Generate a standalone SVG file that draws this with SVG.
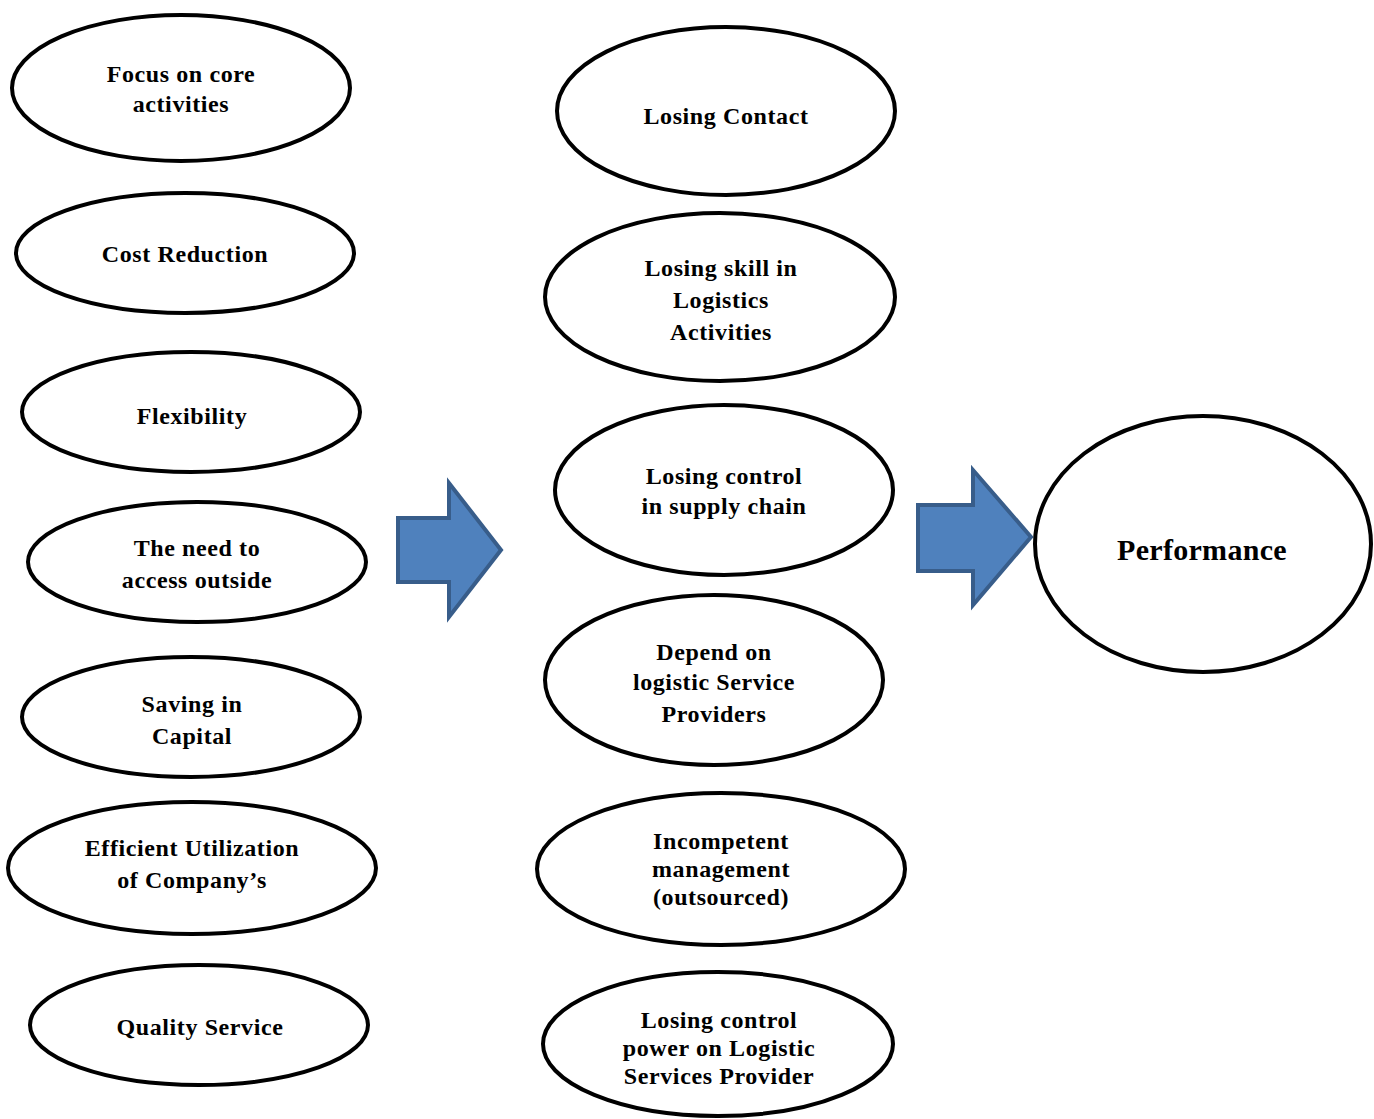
<svg xmlns="http://www.w3.org/2000/svg" width="1374" height="1119" viewBox="0 0 1374 1119">
<style>
.n{fill:#fff;stroke:#000;stroke-width:4}
.t{font-family:"Liberation Serif","Times New Roman",serif;font-weight:bold;font-size:24px;letter-spacing:0.6px;fill:#000;text-anchor:middle}
.p{font-size:30px;letter-spacing:0.3px}
.a{fill:#4f81bd;stroke:#385d8a;stroke-width:4;stroke-linejoin:miter}
</style>
<rect width="1374" height="1119" fill="#fff"/>
<g id="connectors">
<polygon class="a" points="398,518 449,518 449,483 501,550 449,617 449,582 398,582"/>
<polygon class="a" points="918,505 973,505 973,470 1031,537 973,605 973,571 918,571"/>
</g>
<g id="n-focus"><ellipse class="n" cx="181" cy="88" rx="169" ry="73"/><text class="t" x="181" y="82">Focus on core</text><text class="t" x="181" y="112">activities</text></g>
<g id="n-cost"><ellipse class="n" cx="185" cy="253" rx="169" ry="60"/><text class="t" x="185" y="262">Cost Reduction</text></g>
<g id="n-flex"><ellipse class="n" cx="191" cy="412" rx="169" ry="60"/><text class="t" x="192" y="424">Flexibility</text></g>
<g id="n-need"><ellipse class="n" cx="197" cy="562" rx="169" ry="60"/><text class="t" x="197" y="556">The need to</text><text class="t" x="197" y="588">access outside</text></g>
<g id="n-saving"><ellipse class="n" cx="191" cy="717" rx="169" ry="60"/><text class="t" x="192" y="712">Saving in</text><text class="t" x="192" y="744">Capital</text></g>
<g id="n-efficient"><ellipse class="n" cx="192" cy="868" rx="184" ry="66"/><text class="t" x="192" y="856">Efficient Utilization</text><text class="t" x="192" y="888">of Company’s</text></g>
<g id="n-quality"><ellipse class="n" cx="199" cy="1025" rx="169" ry="60"/><text class="t" x="200" y="1035">Quality Service</text></g>
<g id="n-contact"><ellipse class="n" cx="726" cy="111" rx="169" ry="84"/><text class="t" x="726" y="124">Losing Contact</text></g>
<g id="n-skill"><ellipse class="n" cx="720" cy="297" rx="175" ry="84"/><text class="t" x="721" y="276">Losing skill in</text><text class="t" x="721" y="308">Logistics</text><text class="t" x="721" y="340">Activities</text></g>
<g id="n-control"><ellipse class="n" cx="724" cy="490" rx="169" ry="85"/><text class="t" x="724" y="484">Losing control</text><text class="t" x="724" y="514">in supply chain</text></g>
<g id="n-depend"><ellipse class="n" cx="714" cy="680" rx="169" ry="85"/><text class="t" x="714" y="660">Depend on</text><text class="t" x="714" y="690">logistic Service</text><text class="t" x="714" y="722">Providers</text></g>
<g id="n-incompetent"><ellipse class="n" cx="721" cy="869" rx="184" ry="76"/><text class="t" x="721" y="849">Incompetent</text><text class="t" x="721" y="877">management</text><text class="t" x="721" y="905">(outsourced)</text></g>
<g id="n-power"><ellipse class="n" cx="718" cy="1044" rx="175" ry="72"/><text class="t" x="719" y="1028">Losing control</text><text class="t" x="719" y="1056">power on Logistic</text><text class="t" x="719" y="1084">Services Provider</text></g>
<g id="n-performance"><ellipse class="n" cx="1203" cy="544" rx="168" ry="128"/><text class="t p" x="1202" y="560">Performance</text></g>
</svg>
